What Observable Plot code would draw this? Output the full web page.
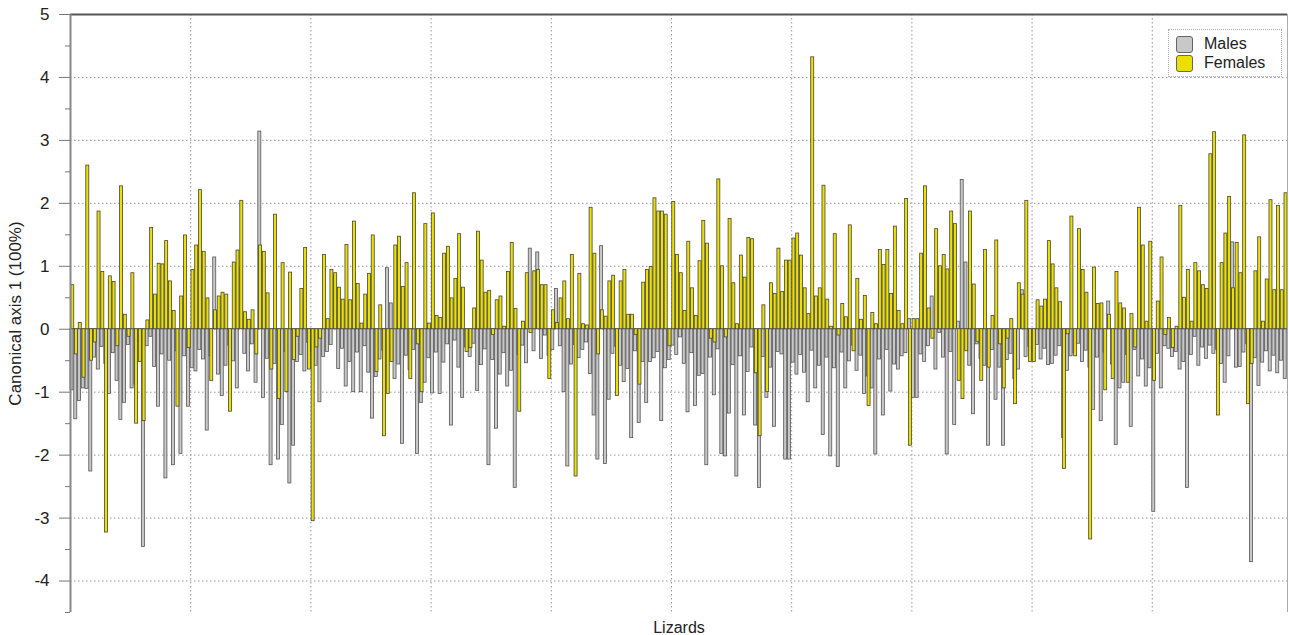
<!DOCTYPE html>
<html>
<head>
<meta charset="utf-8">
<script src="https://cdn.jsdelivr.net/npm/d3@7"></script>
<script src="https://cdn.jsdelivr.net/npm/@observablehq/plot@0.6"></script>
<style>
  body { margin: 0; background: #fff; font-family: "Liberation Sans", Arial, Helvetica, sans-serif; }
  #chart { position: relative; width: 1289px; height: 635px; }
  .legend { position: absolute; left: 1168px; top: 29px; width: 114px; height: 48px;
            border: 1px dotted #aaa; box-sizing: border-box; background: #fff; }
  .legend .row { position: absolute; left: 7px; height: 18px; display: flex; align-items: center;
                 font-size: 16px; color: #222; }
  .legend .sw { width: 15px; height: 15px; border: 1px solid #666; border-radius: 3px; margin-right: 11px; }
</style>
</head>
<body>
<div id="chart"></div>
<script>
// Canonical scores on axis 1, one value per lizard, for each sex
const females = [
  0.70, -0.40, 0.10, -0.77, 2.60, -0.50, -0.21, 1.87, 0.91, -3.23, 0.84, 0.75, -0.27, 2.27, 0.23, -0.12, 0.89, -1.50, -0.52, -1.46, 0.14, 1.61, 0.55, 1.04, 1.03, 1.40, 0.76, 0.29, -1.23,
  0.52, 1.49, -0.30, 0.94, 1.33, 2.21, 1.23, 0.49, -0.82, 0.30, 0.52, 0.58, 0.55, -1.31, 1.06, 1.25, 2.04, 0.27, 0.15, 0.30, -0.40, 1.33, 1.23, 0.57, -0.64, 1.82, -1.11, 1.05, -1.00, 0.90, -0.49,
  -0.12, 0.64, 1.29, -0.64, -3.05, -0.29, -0.15, 1.18, 0.16, 0.94, 0.89, 0.66, 0.47, 1.34, 0.46, 1.71, 0.72, 0.09, 0.55, 0.88, 1.49, -0.68, 0.38, -1.70, -1.03, -0.52, 1.33, 1.47, 0.67, 1.05, -0.79, 2.16,
  -0.24, -1.00, 1.67, 0.09, 1.84, 0.21, 0.18, 1.20, 1.31, 0.49, 0.80, 1.51, 0.66, -0.36, -0.30, 0.33, 1.55, 1.09, 0.58, 0.61, -0.09, 0.46, 0.52, 0.04, 0.91, 1.37, 0.32, -1.31, 0.12, 0.89, -0.06, 0.92, 0.94, 0.70,
  0.70, -0.79, 0.30, 0.10, 0.49, 0.76, 0.16, 1.18, -2.34, 0.88, 0.08, 0.06, 1.93, 1.20, -0.40, 0.30, 0.20, 0.76, 0.85, -1.06, 0.76, 0.94, 0.23, 0.23, -0.09, -0.88, 0.74, 0.94, 0.99, 2.08, 1.87,
  1.87, 1.82, -0.27, 2.02, 1.18, 0.89, 0.29, 1.39, 0.65, 0.21, 1.08, 1.72, 1.36, -0.15, -0.21, 2.38, 1.00, -0.13, 1.75, 0.73, 0.08, 1.17, 0.82, 1.45, 1.43, -0.70, -1.70, 0.38, -1.00, 0.73, 0.56, 1.28, 0.59, 1.09,
  1.09, 1.44, 1.52, 1.17, 0.65, 0.24, 4.32, 0.52, 0.65, 2.28, 0.47, 0.04, 1.51, -0.10, 0.40, 0.19, 1.65, -0.35, 0.80, 0.15, 0.53, -1.22, 0.26, 0.08, 1.26, 1.02, 1.26, 0.56, 1.63, 0.29, 0.08, 2.07, -1.85, 0.16,
  0.16, 1.20, 2.27, 0.33, -0.15, 1.59, 1.00, 1.18, 0.95, 1.87, 1.67, -0.82, -1.11, -0.35, 1.87, 0.71, -0.20, -0.82, 1.26, -0.61, 0.21, 1.41, -0.24, -0.94, -0.15, 0.16, -1.19, 0.73, 0.55, 2.04, -0.52,
  -0.52, 0.46, 0.36, 0.47, 1.40, 1.03, 0.65, 0.43, -2.22, -0.08, 1.79, -0.43, 1.59, 0.94, 0.58, -3.34, 0.98, 0.40, 0.41, -0.97, 0.23, -0.79, 0.91, 0.41, 0.33, -0.85, 0.24, -0.29, 1.93, 1.33, 0.12, 1.39, -0.82, 0.44, 1.14,
  -0.09, 0.18, -0.30, 0.04, 1.96, 0.50, 0.94, 0.12, 1.05, 0.92, 0.70, 0.64, 2.78, 3.13, -1.37, 1.05, 1.52, 2.10, 0.65, 1.37, 0.89, 3.08, -1.19, -0.55, 0.92, 1.46, 0.12, 0.79, 2.05, 0.62, 1.96, 0.62, 2.16
];
const males = [
  -0.97, -1.43, -1.14, -0.94, -0.95, -2.26, -0.45, -0.64, -0.28, -0.55, -1.03, -0.38, -0.82, -1.44, -1.17, -0.25, -0.94, -0.88, -0.21, -3.46, -0.27, -0.12, -0.60, -1.23, -0.40, -2.37, -0.50, -2.16, -0.35,
  -1.98, -0.43, -1.23, -0.62, -0.67, -0.33, -0.48, -1.61, -0.43, 1.14, -0.72, -1.06, -0.58, -0.26, -0.51, -0.94, 0.97, -0.39, -0.67, -0.24, -0.85, 3.14, -1.09, -0.47, -2.16, -0.55, -2.07, -1.52, -0.36, -2.45, -1.85,
  -0.52, -0.41, -0.67, -0.22, -0.36, -0.58, -1.16, -0.44, -0.36, -0.25, 0.84, -0.63, -0.31, -0.91, -0.52, -1.00, -0.37, -1.00, -0.27, -0.69, -1.42, -0.76, -0.48, -0.34, 0.97, 0.41, -0.79, -0.56, -1.82, -0.42, -0.65, -0.33,
  -1.98, -1.17, -0.85, -0.46, -1.02, -0.37, -1.03, -0.53, -0.24, -1.53, -0.18, -0.61, -1.09, -0.29, -0.44, -0.23, -0.98, -0.57, -0.32, -2.16, -0.49, -1.58, -0.72, -0.38, -0.91, -0.66, -2.52, -0.41, -0.26, -0.54, 1.28, -0.35, 1.22, -0.47,
  -0.10, -0.42, -0.33, 0.64, -0.27, -1.00, -2.18, -0.56, -0.25, -0.46, -0.33, -0.21, -0.71, -1.37, -2.07, 1.32, -2.14, -1.12, -0.39, -0.28, -0.58, -0.84, -0.63, -1.73, -0.35, -1.49, -0.52, -1.17, -0.52, -0.46, -0.36,
  -1.46, -0.62, -0.49, -0.26, -0.41, -0.13, -0.55, -1.32, -0.38, -1.22, -0.74, -0.71, -2.16, -0.45, -1.05, -0.32, -1.98, -2.02, -1.34, -0.57, -2.34, -0.43, -1.37, -0.68, -0.29, -1.53, -2.52, -0.44, -1.09, -0.61, -1.55, -0.36, -0.40, -2.07,
  -2.07, -0.53, -0.72, -0.41, -0.69, -1.16, -0.34, -0.94, -0.58, -1.68, -0.45, -2.02, -0.62, -2.19, -0.37, -0.94, -0.51, -0.26, -0.66, -0.42, -1.03, -0.75, -0.94, -1.99, -0.48, -1.37, -0.33, -0.99, -0.56, -0.64, -0.43, -0.38, 0.16, -1.09,
  -1.09, -0.40, -0.52, -0.27, 0.52, -0.64, -0.06, -0.45, -1.99, -0.36, -1.52, 0.12, 2.37, 1.06, -0.58, -1.35, -0.24, -0.47, -0.58, -1.85, -0.33, -1.12, -0.61, -1.85, -0.49, -0.39, -0.79, -0.64, 0.62, -0.44, -0.28,
  -0.36, -0.25, -0.48, -0.31, -0.57, -0.55, -0.42, -0.27, -1.73, -0.66, -0.43, -0.38, -0.23, -0.52, -0.34, -0.61, -1.28, -0.45, -1.46, -0.37, 0.44, -0.56, -1.84, -0.94, -0.85, -0.41, -1.55, -0.33, -0.75, -0.48, -0.91, -0.62, -2.90, -0.39, -0.94,
  -0.27, -0.31, -0.44, -0.36, -0.64, -0.52, -2.52, -0.41, -0.12, -0.58, -0.29, -0.47, -0.26, -0.39, -0.33, -0.55, -0.85, -0.43, 1.38, -0.61, -0.60, -0.37, -0.24, -3.70, -0.46, -0.90, -0.53, -0.35, -0.67, -0.42, -0.70, -0.50, -0.79
];
const sexes = ["Males", "Females"];
const sexColors = ["#c8c8c8", "#ece000"];
const yTicks = [-4, -3, -2, -1, 0, 1, 2, 3, 4, 5];
const yMinorTicks = [-4.5, -3.5, -2.5, -1.5, -0.5, 0.5, 1.5, 2.5, 3.5, 4.5];
const yDomain = [-4.5, 5];
const lizardsPerGridStep = 32;

const n = Math.max(females.length, males.length);
const xGrid = d3.range(1, 10).map(k => k * lizardsPerGridStep);
const font = '"Liberation Sans", Arial, Helvetica, sans-serif';

const chart = Plot.plot({
  width: 1289,
  height: 635,
  marginLeft: 70,
  marginRight: 2,
  marginTop: 14,
  marginBottom: 23,
  style: { fontFamily: font, fontSize: "17px", color: "#222", background: "#fff" },
  x: { type: "linear", domain: [0, n] },
  y: { domain: yDomain },
  marks: [
    Plot.gridY(yTicks, { stroke: "#999", strokeOpacity: 1, strokeDasharray: "1.5,2.5" }),
    Plot.gridX(xGrid, { stroke: "#999", strokeOpacity: 1, strokeDasharray: "1.5,2.5" }),
    Plot.rect(males, {
      x1: (d, i) => i, x2: (d, i) => i + 0.8, y1: 0, y2: d => d,
      fill: sexColors[0], stroke: "#555", strokeWidth: 0.8
    }),
    Plot.rect(females, {
      x1: (d, i) => i + 0.2, x2: (d, i) => i + 1, y1: 0, y2: d => d,
      fill: sexColors[1], stroke: "#444", strokeWidth: 0.8
    }),
    Plot.ruleY([yDomain[1]], { stroke: "#555", strokeWidth: 2 }),
    Plot.ruleX([n], { stroke: "#aaa", strokeWidth: 1 }),
    Plot.ruleX([0], { stroke: "#888", strokeWidth: 2 }),
    Plot.axisY(yTicks, {
      tickSize: 11, tickPadding: 10, stroke: "#777", fontSize: 17, fill: "#222",
      tickFormat: d => String(d),
      label: "Canonical axis 1 (100%)", labelAnchor: "center", labelArrow: "none", labelOffset: 62
    }),
    Plot.axisY(yMinorTicks, { tickSize: 5, stroke: "#777", tickFormat: () => "", label: null }),
    Plot.axisX([], { label: "Lizards", labelAnchor: "center", labelArrow: "none", labelOffset: 20, fontSize: 16 })
  ]
});

const root = document.getElementById("chart");
root.appendChild(chart);

// legend box in the top-right corner
const legend = document.createElement("div");
legend.className = "legend";
sexes.forEach((s, k) => {
  const row = document.createElement("div");
  row.className = "row";
  row.style.top = (5 + k * 19) + "px";
  const sw = document.createElement("span");
  sw.className = "sw";
  sw.style.background = sexColors[k];
  row.appendChild(sw);
  row.appendChild(document.createTextNode(s));
  legend.appendChild(row);
});
root.appendChild(legend);
</script>
</body>
</html>
